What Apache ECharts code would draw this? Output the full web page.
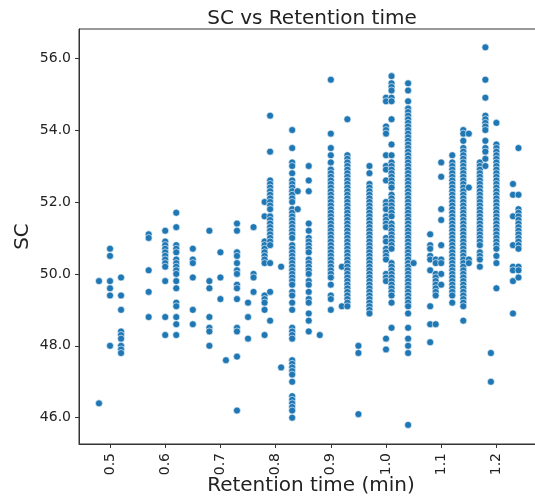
<!DOCTYPE html>
<html>
<head>
<meta charset="utf-8">
<script src="https://cdn.jsdelivr.net/npm/echarts@6/dist/echarts.min.js"></script>
<style>html,body{margin:0;padding:0;background:#fff;overflow:hidden}#c{width:535px;height:497px}</style>
</head>
<body>
<div id="c"></div>
<script>
const xTicks = [0.5, 0.6, 0.7, 0.8, 0.9, 1.0, 1.1, 1.2];
const yTicks = [46, 48, 50, 52, 54, 56];

const sc048 = [49.8, 46.4];
const sc050 = [50.7, 50.5, 49.8, 49.6, 49.4, 48.0];
const sc052 = [49.9, 49.4, 49.0, 48.4, 48.3, 48.2, 48.0, 47.9, 47.8];
const sc057 = [51.1, 51.0, 50.1, 49.5, 48.8];
const sc060 = [51.2, 50.9, 50.8, 50.7, 50.6, 50.5, 50.4, 50.3, 50.2, 49.8, 48.8, 48.3];
const sc062 = [51.7, 51.3, 50.8, 50.7, 50.6, 50.4, 50.3, 50.2, 50.1, 50.0, 49.8, 49.6, 49.2, 49.1, 48.8, 48.6, 48.3];
const sc065 = [50.7, 50.4, 50.3, 49.9, 49.0, 48.6];
const sc068 = [51.2, 49.8, 49.6, 48.8, 48.5, 48.4, 48.0];
const sc070 = [50.6, 49.9, 49.3];
const sc071 = [47.6];
const sc073 = [51.4, 51.2, 50.6, 50.5, 50.3, 50.1, 50.0, 49.7, 49.6, 49.3, 48.5, 48.4, 47.7, 46.2];
const sc075 = [49.2, 48.8, 48.2];
const sc076 = [51.3, 50.0, 49.9, 49.5];
const sc078 = [52.0, 51.6, 50.9, 50.8, 50.7, 50.6, 50.5, 50.4, 50.3, 49.4, 49.3, 49.2, 49.0, 48.3];
const sc079 = [54.4, 53.4, 52.6, 52.5, 52.4, 52.3, 52.2, 52.1, 52.0, 51.9, 51.8, 51.6, 51.5, 51.4, 51.3, 51.2, 51.1, 51.0, 50.9, 50.8, 50.3, 49.5, 48.7];
const sc081 = [50.2, 47.4];
const sc083 = [54.0, 53.5, 53.1, 53.0, 52.8, 52.6, 52.5, 52.4, 52.3, 52.2, 52.1, 52.0, 51.8, 51.7, 51.6, 51.5, 51.4, 51.3, 51.2, 51.1, 51.0, 50.8, 50.7, 50.6, 50.5, 50.4, 50.3, 50.2, 50.1, 50.0, 49.9, 49.8, 49.7, 49.5, 49.4, 49.2, 49.0, 48.5, 48.4, 48.3, 48.2, 47.6, 47.5, 47.4, 47.3, 47.2, 47.0, 46.6, 46.5, 46.4, 46.3, 46.2, 46.0];
const sc084 = [52.3, 51.8];
const sc086 = [53.0, 52.6, 52.3, 51.4, 51.2, 51.0, 50.9, 50.8, 50.7, 50.6, 50.4, 50.3, 50.2, 50.1, 50.0, 49.8, 49.7, 49.5, 49.3, 49.2, 48.9, 48.7, 48.4];
const sc088 = [48.3];
const sc090 = [55.4, 53.9, 53.5, 53.3, 53.1, 52.9, 52.8, 52.7, 52.6, 52.5, 52.4, 52.3, 52.2, 52.1, 52.0, 51.9, 51.8, 51.7, 51.6, 51.5, 51.4, 51.3, 51.2, 51.1, 51.0, 50.9, 50.8, 50.7, 50.6, 50.5, 50.4, 50.3, 50.2, 50.1, 50.0, 49.9, 49.7, 49.4, 49.3, 49.0];
const sc092 = [50.2, 49.1];
const sc093 = [54.3, 53.3, 53.2, 53.1, 53.0, 52.9, 52.8, 52.7, 52.6, 52.5, 52.4, 52.3, 52.2, 52.1, 52.0, 51.9, 51.8, 51.7, 51.6, 51.5, 51.4, 51.3, 51.2, 51.1, 51.0, 50.9, 50.8, 50.7, 50.6, 50.5, 50.4, 50.3, 50.2, 50.1, 50.0, 49.9, 49.8, 49.7, 49.6, 49.5, 49.4, 49.3, 49.2, 49.1];
const sc095 = [48.0, 47.8, 46.1];
const sc097 = [53.0, 52.8, 52.5, 52.4, 52.3, 52.2, 52.1, 52.0, 51.9, 51.8, 51.7, 51.6, 51.5, 51.4, 51.3, 51.2, 51.1, 51.0, 50.9, 50.8, 50.7, 50.6, 50.5, 50.4, 50.3, 50.2, 50.1, 50.0, 49.9, 49.8, 49.7, 49.6, 49.5, 49.4, 49.3, 49.2, 49.1, 49.0, 48.9];
const sc100 = [54.9, 54.8, 54.1, 54.0, 53.9, 53.3, 53.0, 52.9, 52.6, 52.0, 51.9, 51.8, 51.6, 51.5, 51.4, 51.3, 51.0, 50.9, 50.7, 50.6, 50.5, 50.4, 50.0, 49.9, 49.8, 48.2, 47.9];
const sc101 = [55.5, 55.3, 55.2, 55.1, 54.9, 54.8, 54.3, 53.6, 53.3, 53.1, 53.0, 52.9, 52.8, 52.7, 52.6, 52.5, 52.4, 52.2, 52.1, 52.0, 51.9, 51.8, 51.7, 51.6, 51.4, 51.3, 51.2, 51.1, 51.0, 50.9, 50.8, 50.7, 50.3, 50.2, 50.1, 50.0, 49.9, 49.8, 49.7, 49.6, 49.5, 49.4, 49.2, 48.5];
const sc104 = [55.3, 55.1, 54.8, 54.6, 54.5, 54.4, 54.3, 54.2, 54.1, 54.0, 53.9, 53.8, 53.7, 53.6, 53.5, 53.4, 53.3, 53.2, 53.1, 53.0, 52.9, 52.8, 52.7, 52.6, 52.5, 52.4, 52.3, 52.2, 52.1, 52.0, 51.9, 51.8, 51.7, 51.6, 51.5, 51.4, 51.3, 51.2, 51.1, 51.0, 50.9, 50.8, 50.7, 50.6, 50.5, 50.4, 50.3, 50.2, 50.1, 50.0, 49.9, 49.8, 49.7, 49.6, 49.5, 49.4, 49.3, 49.2, 49.1, 48.9, 48.5, 48.2, 48.0, 47.8, 45.8];
const sc105 = [50.3];
const sc108 = [51.1, 50.8, 50.7, 50.5, 50.4, 50.1, 49.1, 48.6, 48.1];
const sc109 = [50.4, 50.3, 50.0, 49.9, 49.8, 49.7, 49.6, 49.5, 49.4, 48.6];
const sc110 = [53.1, 52.7, 51.8, 51.5, 50.8, 50.4, 50.3, 50.0, 49.7];
const sc112 = [53.3, 53.1, 53.0, 52.9, 52.8, 52.7, 52.6, 52.5, 52.4, 52.3, 52.2, 52.1, 52.0, 51.9, 51.8, 51.7, 51.6, 51.5, 51.4, 51.3, 51.2, 51.1, 51.0, 50.9, 50.8, 50.7, 50.6, 50.5, 50.4, 50.3, 50.2, 50.1, 50.0, 49.9, 49.8, 49.7, 49.6, 49.5, 49.4, 49.2];
const sc114 = [54.0, 53.9, 53.7, 53.5, 53.4, 53.3, 53.2, 53.1, 53.0, 52.9, 52.8, 52.7, 52.6, 52.5, 52.4, 52.3, 52.2, 52.1, 52.0, 51.9, 51.8, 51.7, 51.6, 51.5, 51.4, 51.3, 51.2, 51.1, 51.0, 50.9, 50.8, 50.7, 50.6, 50.5, 50.4, 50.3, 50.2, 50.1, 50.0, 49.9, 49.8, 49.7, 49.6, 49.5, 49.4, 49.3, 49.2, 49.1, 48.7];
const sc115 = [53.9, 52.4, 50.4, 50.3];
const sc117 = [53.1, 53.0, 52.9, 52.8, 52.7, 52.6, 52.5, 52.4, 52.3, 52.2, 52.1, 52.0, 51.9, 51.8, 51.7, 51.6, 51.5, 51.4, 51.3, 51.2, 51.1, 51.0, 50.9, 50.8, 50.6, 50.5, 50.4, 50.2];
const sc118 = [56.3, 55.4, 54.9, 54.4, 54.3, 54.2, 54.1, 54.0, 53.7, 53.5, 53.4, 53.2, 53.0];
const sc119 = [47.8, 47.0];
const sc120 = [54.2, 53.6, 53.5, 53.4, 53.3, 53.2, 53.1, 53.0, 52.9, 52.8, 52.7, 52.6, 52.5, 52.4, 52.3, 52.2, 52.1, 52.0, 51.9, 51.8, 51.7, 51.6, 51.5, 51.4, 51.3, 51.2, 51.1, 51.0, 50.9, 50.8, 50.7, 50.5, 50.3, 49.6];
const sc123 = [52.5, 52.2, 51.6, 50.8, 50.2, 50.1, 49.8, 48.9];
const sc124 = [53.5, 52.2, 51.8, 51.7, 51.6, 51.5, 51.4, 51.3, 51.2, 51.1, 51.0, 50.9, 50.8, 50.7, 50.2, 50.1, 49.9];

const retentionTimes = [0.48, 0.50, 0.52, 0.57, 0.60, 0.62, 0.65, 0.68, 0.70, 0.71, 0.73, 0.75, 0.76, 0.78, 0.79, 0.81, 0.83, 0.84, 0.86, 0.88, 0.90, 0.92, 0.93, 0.95, 0.97, 1.00, 1.01, 1.04, 1.05, 1.08, 1.09, 1.10, 1.12, 1.14, 1.15, 1.17, 1.18, 1.19, 1.20, 1.23, 1.24];
const scLists = [sc048, sc050, sc052, sc057, sc060, sc062, sc065, sc068, sc070, sc071, sc073, sc075, sc076, sc078, sc079, sc081, sc083, sc084, sc086, sc088, sc090, sc092, sc093, sc095, sc097, sc100, sc101, sc104, sc105, sc108, sc109, sc110, sc112, sc114, sc115, sc117, sc118, sc119, sc120, sc123, sc124];

const points = [];
retentionTimes.forEach((t, i) => scLists[i].forEach(v => points.push([t, v])));

const FONT = 'DejaVu Sans';
const TXT = '#222';
const chart = echarts.init(document.getElementById('c'), null, {renderer: 'canvas'});
chart.setOption({
  animation: false,
  backgroundColor: '#fff',
  title: {
    text: 'SC vs Retention time', left: 307, top: 4, textAlign: 'center',
    textStyle: {fontFamily: FONT, fontSize: 20, fontWeight: 'normal', color: TXT}
  },
  grid: {left: 79, top: 29, right: -8, bottom: 53, containLabel: false, outerBoundsMode: 'none',
    show: true, borderColor: '#333', borderWidth: 1, backgroundColor: 'transparent'},
  xAxis: {
    type: 'value', min: 0.4438, max: 1.2844,
    name: 'Retention time (min)', nameLocation: 'middle', nameGap: 32, nameMoveOverlap: false,
    nameTextStyle: {fontFamily: FONT, fontSize: 20, color: TXT},
    splitLine: {show: false},
    axisLine: {show: true, onZero: false, lineStyle: {color: '#333', width: 1}},
    axisTick: {show: true, length: 4, customValues: xTicks, lineStyle: {color: '#333'}},
    axisLabel: {customValues: xTicks, rotate: 90, margin: 9, fontFamily: FONT, fontSize: 14, color: TXT,
      formatter: v => Number(v).toFixed(1)}
  },
  yAxis: {
    type: 'value', min: 45.27, max: 56.81,
    name: 'SC', nameLocation: 'middle', nameGap: 46, nameRotate: 90, nameMoveOverlap: false,
    nameTextStyle: {fontFamily: FONT, fontSize: 20, color: TXT},
    splitLine: {show: false},
    axisLine: {show: true, onZero: false, lineStyle: {color: '#333', width: 1}},
    axisTick: {show: true, length: 4, customValues: yTicks, lineStyle: {color: '#333'}},
    axisLabel: {customValues: yTicks, margin: 8, fontFamily: FONT, fontSize: 14, color: TXT,
      formatter: v => Number(v).toFixed(1)}
  },
  series: [{
    type: 'scatter', data: points, symbolSize: 7,
    itemStyle: {color: '#1f77b4', borderColor: '#ffffff', borderWidth: 0.6, opacity: 1}
  }]
});
</script>
</body>
</html>
